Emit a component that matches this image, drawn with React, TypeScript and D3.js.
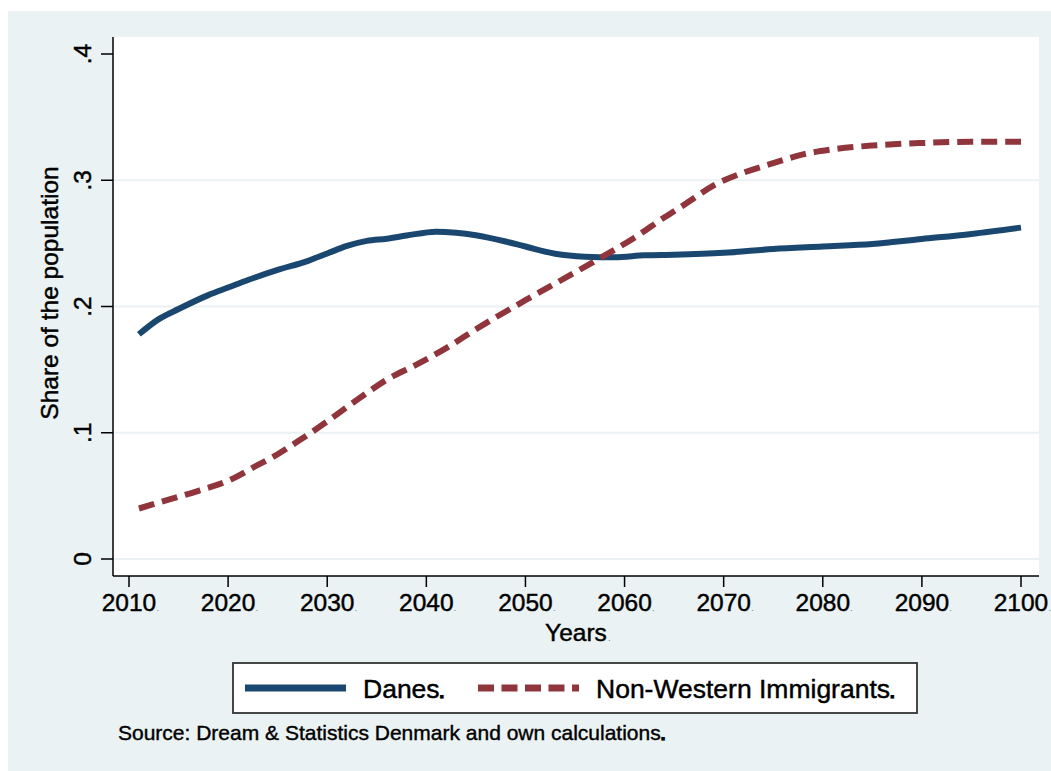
import React from "react";
import * as d3 from "d3";

// Projected population shares, Denmark
const danesYears = [2011, 2013, 2015, 2018, 2020, 2022, 2025, 2028, 2030, 2032, 2034, 2036, 2038, 2041, 2043, 2045, 2048, 2050, 2053, 2056, 2059, 2062, 2065, 2070, 2075, 2080, 2085, 2090, 2095, 2100];
const danesShare = [0.178, 0.19, 0.198, 0.209, 0.215, 0.221, 0.229, 0.236, 0.242, 0.248, 0.252, 0.2537, 0.2562, 0.2593, 0.2585, 0.2565, 0.2515, 0.2475, 0.2418, 0.2395, 0.239, 0.2405, 0.241, 0.2425, 0.2455, 0.2475, 0.2495, 0.2535, 0.2575, 0.2625];

const immYears = [2011, 2014, 2017, 2020, 2023, 2025, 2027, 2030, 2033, 2036, 2039, 2042, 2045, 2050, 2055, 2058, 2061, 2064, 2066, 2069, 2072, 2075, 2078, 2081, 2085, 2090, 2095, 2100];
const immShare = [0.04, 0.047, 0.054, 0.062, 0.0745, 0.083, 0.093, 0.109, 0.126, 0.142, 0.154, 0.167, 0.182, 0.205, 0.227, 0.2405, 0.2545, 0.2705, 0.2805, 0.296, 0.306, 0.3135, 0.3205, 0.3245, 0.3275, 0.3295, 0.3305, 0.3305];

const xTicks = [2010, 2020, 2030, 2040, 2050, 2060, 2070, 2080, 2090, 2100];
const yTicks = [0, 0.1, 0.2, 0.3, 0.4];
const yTickLabels = ["0", ".1", ".2", ".3", ".4"];
const gridTicks = [0, 0.1, 0.2, 0.3];

const seriesNames = ["Danes", "Non-Western Immigrants"];
const sourceNote = "Source: Dream & Statistics Denmark and own calculations";

const FONT = "'Liberation Sans', Arial, Helvetica, sans-serif";
const BG = "#eaf2f3";
const BLUE = "#1a476f";
const RED = "#90353b";
const TXT = { fill: "#000", stroke: "#000", strokeWidth: 0.45 };

export default function App() {
  const W = 1051;
  const H = 771;
  const plot = { left: 113, right: 1039, top: 37, bottom: 576 };

  const x = d3.scaleLinear().domain([2010, 2100]).range([129, 1021]);
  const y = d3.scaleLinear().domain([0, 0.4]).range([559, 54]);

  const line = d3
    .line<[number, number]>()
    .x((d) => x(d[0]))
    .y((d) => y(d[1]))
    .curve(d3.curveMonotoneX);

  const danesPath = line(danesYears.map((yr, i) => [yr, danesShare[i]] as [number, number])) || "";
  const immPath = line(immYears.map((yr, i) => [yr, immShare[i]] as [number, number])) || "";

  const legend = { x0: 233, x1: 917, y0: 663, y1: 713 };
  const legendMidY = (legend.y0 + legend.y1) / 2;

  const tickFs = 24.5;
  const endMark = (
    <tspan fontSize={7.5} stroke="none" fill="#000" dy={1}>
      ■
    </tspan>
  );

  return (
    <svg
      width={W}
      height={H}
      style={{ position: "absolute", left: 0, top: 0, background: "#ffffff" }}
      fontFamily={FONT}
    >
      <rect x={8} y={11} width={W - 8} height={H - 11} fill={BG} />
      <rect x={plot.left} y={plot.top} width={plot.right - plot.left} height={plot.bottom - plot.top} fill="#ffffff" />

      {/* horizontal grid */}
      {gridTicks.map((t) => (
        <line key={"g" + t} x1={plot.left} x2={plot.right} y1={y(t)} y2={y(t)} stroke={BG} strokeWidth={2} />
      ))}

      {/* series */}
      <path d={danesPath} fill="none" stroke={BLUE} strokeWidth={6} strokeLinejoin="round" />
      <path d={immPath} fill="none" stroke={RED} strokeWidth={6} strokeDasharray="16 8" />

      {/* axes */}
      <line x1={plot.left} x2={plot.left} y1={plot.top} y2={plot.bottom} stroke="#000" strokeWidth={1.5} />
      <line x1={plot.left} x2={plot.right} y1={plot.bottom} y2={plot.bottom} stroke="#000" strokeWidth={1.5} />

      {yTicks.map((t, i) => (
        <g key={"y" + t}>
          <line x1={plot.left - 12} x2={plot.left} y1={y(t)} y2={y(t)} stroke="#000" strokeWidth={1.5} />
          <text transform={`translate(91,${y(t)}) rotate(-90)`} textAnchor="middle" fontSize={tickFs} {...TXT}>
            {yTickLabels[i]}
          </text>
        </g>
      ))}

      {xTicks.map((t) => (
        <g key={"x" + t}>
          <line x1={x(t)} x2={x(t)} y1={plot.bottom} y2={plot.bottom + 11} stroke="#000" strokeWidth={1.5} />
          <text x={x(t)} y={611} textAnchor="middle" fontSize={tickFs} {...TXT}>
            {String(t)}
          </text>
          <text x={x(t) + 27.5} y={611} fontSize={9} fill="#777">.</text>
        </g>
      ))}

      <text x={576} y={641} textAnchor="middle" fontSize={tickFs} {...TXT}>
        Years
      </text>
      <text x={608} y={641} fontSize={9} fill="#777">.</text>
      <text transform="translate(58,293) rotate(-90)" textAnchor="middle" fontSize={tickFs} {...TXT}>
        Share of the population
      </text>

      {/* legend */}
      <rect
        x={legend.x0}
        y={legend.y0}
        width={legend.x1 - legend.x0}
        height={legend.y1 - legend.y0}
        fill="#ffffff"
        stroke="#333"
        strokeWidth={1.8}
      />
      <line x1={245} x2={346} y1={legendMidY} y2={legendMidY} stroke={BLUE} strokeWidth={7} />
      <text x={363} y={698} fontSize={26.5} {...TXT}>
        {seriesNames[0]}
        {endMark}
      </text>
      <line x1={478} x2={579} y1={legendMidY} y2={legendMidY} stroke={RED} strokeWidth={7} strokeDasharray="16 7.5" />
      <text x={596} y={698} fontSize={26.5} {...TXT}>
        {seriesNames[1]}
        {endMark}
      </text>

      <text x={118} y={740} fontSize={21} fill="#000" stroke="#000" strokeWidth={0.4}>
        {sourceNote}
        {endMark}
      </text>
    </svg>
  );
}
